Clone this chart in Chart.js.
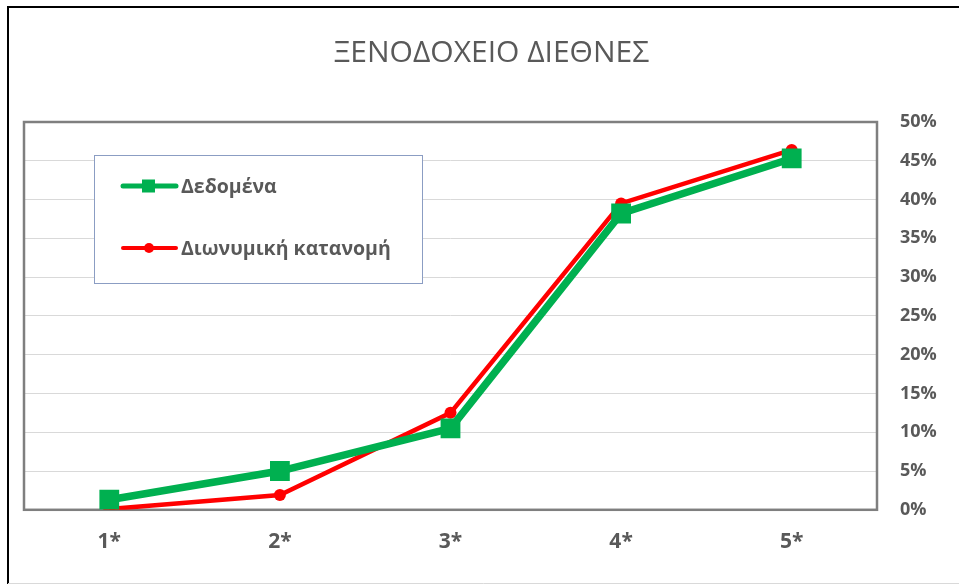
<!DOCTYPE html>
<html>
<head>
<meta charset="utf-8">
<script src="https://cdn.jsdelivr.net/npm/chart.js@4/dist/chart.umd.min.js"></script>
<style>
  html, body { margin: 0; padding: 0; background: #fff; }
  canvas { display: block; }
</style>
</head>
<body>
<canvas id="myChart" width="959" height="584"></canvas>
<script>
// δεδομένα του γραφήματος
var categories = ["1*", "2*", "3*", "4*", "5*"];
var dedomena = [1.3, 5.0, 10.5, 38.2, 45.3];
var dionymiki = [0.1, 1.9, 12.5, 39.5, 46.4];
var seriesNames = ["Δεδομένα", "Διωνυμική κατανομή"];
var yTicks = [0, 5, 10, 15, 20, 25, 30, 35, 40, 45, 50];

var textColor = "#595959";
var fontFamily = "'Open Sans', 'DejaVu Sans', sans-serif";

// πλαίσιο γύρω από το γράφημα και την περιοχή σχεδίασης
var framePlugin = {
    id: "frame",
    beforeDraw: function (chart) {
        var c = chart.ctx;
        c.save();
        c.fillStyle = "#fff";
        c.fillRect(0, 0, chart.width, chart.height);
        c.strokeStyle = "#000";
        c.lineWidth = 2;
        c.beginPath();
        c.moveTo(8, chart.height);
        c.lineTo(8, 7);
        c.lineTo(chart.width, 7);
        c.stroke();
        c.strokeStyle = "#d9d9d9";
        c.lineWidth = 1;
        c.beginPath();
        c.moveTo(8, 583.5);
        c.lineTo(chart.width, 583.5);
        c.stroke();
        c.restore();
    },
    beforeDatasetsDraw: function (chart) {
        var a = chart.chartArea;
        var c = chart.ctx;
        c.save();
        c.strokeStyle = "#7f7f7f";
        c.lineWidth = 2.5;
        c.strokeRect(a.left, a.top, a.right - a.left, a.bottom - a.top);
        c.restore();
    }
};

// υπόμνημα μέσα στην περιοχή σχεδίασης
var legendBoxPlugin = {
    id: "legendBox",
    afterDraw: function (chart) {
        var c = chart.ctx;
        var ds = chart.data.datasets;
        c.save();
        c.fillStyle = "#fff";
        c.fillRect(94.5, 155.5, 328, 128);
        c.strokeStyle = "#8b9dc3";
        c.lineWidth = 1;
        c.strokeRect(94.5, 155.5, 328, 128);
        var rows = [186, 248];
        for (var i = 0; i < ds.length; i++) {
            var y = rows[i];
            c.strokeStyle = ds[i].borderColor;
            c.lineWidth = i === 0 ? 5 : 4;
            c.lineCap = "round";
            c.beginPath();
            c.moveTo(123, y);
            c.lineTo(176, y);
            c.stroke();
            c.fillStyle = ds[i].backgroundColor;
            if (i === 0) {
                c.fillRect(142, y - 6.5, 13, 13);
            } else {
                c.beginPath();
                c.arc(149, y, 5, 0, Math.PI * 2);
                c.fill();
            }
            c.fillStyle = textColor;
            c.font = "bold 19.5px " + fontFamily;
            c.textAlign = "left";
            c.textBaseline = "middle";
            c.fillText(ds[i].label, 181, y + 1);
        }
        c.restore();
    }
};

Chart.defaults.font.family = fontFamily;
Chart.defaults.color = textColor;

var ctx = document.getElementById("myChart");
var myChart = new Chart(ctx, {
    type: "line",
    data: {
        labels: categories,
        datasets: [{
            label: seriesNames[0],
            data: dedomena,
            borderColor: "#00b050",
            backgroundColor: "#00b050",
            borderWidth: 7.5,
            pointStyle: "rect",
            pointRadius: 14,
            pointHoverRadius: 14,
            pointBorderWidth: 0,
            tension: 0,
        }, {
            label: seriesNames[1],
            data: dionymiki,
            borderColor: "#ff0000",
            backgroundColor: "#ff0000",
            borderWidth: 4.5,
            pointStyle: "circle",
            pointRadius: 6,
            pointHoverRadius: 6,
            pointBorderWidth: 0,
            tension: 0,
        }, ],
    },
    options: {
        responsive: false,
        animation: false,
        devicePixelRatio: 1,
        layout: {
            padding: { left: 24, right: 0, top: 0, bottom: 9 }
        },
        plugins: {
            legend: { display: false },
            tooltip: { enabled: false },
            title: {
                display: true,
                text: "ΞΕΝΟΔΟΧΕΙΟ ΔΙΕΘΝΕΣ",
                color: textColor,
                font: { size: 30, weight: "normal", family: fontFamily, lineHeight: 1.2 },
                padding: { top: 35, bottom: 51 }
            }
        },
        scales: {
            x: {
                offset: true,
                grid: { display: false, drawTicks: false },
                border: { display: false },
                ticks: {
                    padding: 20,
                    color: textColor,
                    font: { size: 21, weight: "bold" }
                }
            },
            y: {
                position: "right",
                min: 0,
                max: 50,
                afterBuildTicks: function (scale) {
                    scale.ticks = yTicks.map(function (v) { return { value: v }; });
                },
                afterFit: function (scale) {
                    scale.width = 82;
                },
                grid: { color: "#d9d9d9", lineWidth: 1, drawTicks: false },
                border: { display: false },
                ticks: {
                    padding: 23,
                    color: textColor,
                    font: { size: 18, weight: "bold" },
                    callback: function (v) { return v + "%"; }
                }
            }
        }
    },
    plugins: [framePlugin, legendBoxPlugin]
});
</script>
</body>
</html>
